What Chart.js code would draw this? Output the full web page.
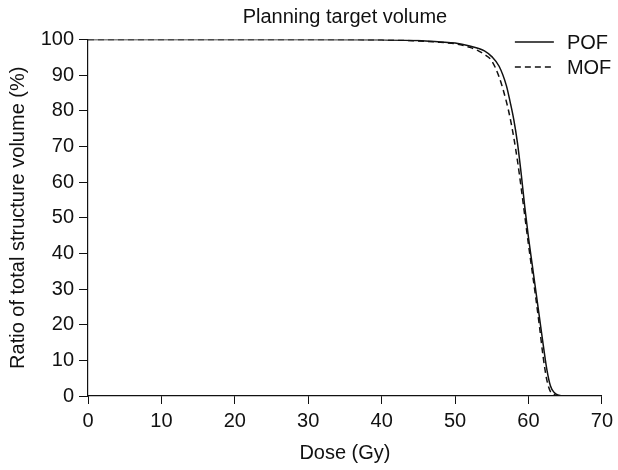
<!DOCTYPE html>
<html lang="en">
<head>
  <meta charset="UTF-8">
  <title>Planning target volume</title>
  <script src="https://cdn.jsdelivr.net/npm/chart.js"></script>
  <style>
    html, body { margin: 0; padding: 0; background: #fff; }
    #wrap { width: 618px; height: 470px; }
  </style>
</head>
<body>
  <div id="wrap"><canvas id="chart" width="618" height="470"></canvas></div>

  <script>
    // dose (Gy) and % of structure volume
    const doses = [0, 10, 20, 30, 40, 45, 48, 50, 52, 53, 54, 55, 56, 57, 57.5, 58, 58.5, 59, 59.5, 60, 60.5, 61, 61.5, 62, 62.5, 63, 63.5, 64, 65, 70];
    const pof = [100, 100, 100, 100, 99.9, 99.7, 99.3, 99, 98.2, 97.6, 96.8, 95.2, 92.5, 87, 82.5, 77.5, 71, 62.5, 53, 44.5, 37, 29.5, 22, 14.5, 7.5, 2.8, 1.0, 0.3, 0, 0];
    const mof = [100, 100, 100, 100, 99.9, 99.6, 99.2, 98.8, 97.8, 97, 95.8, 94, 89.5, 82.5, 78, 72.5, 66, 58.5, 50.5, 42.5, 35, 27.5, 19.5, 11, 4.5, 1.2, 0.4, 0.1, 0, 0];
    const xTicks = [0, 10, 20, 30, 40, 50, 60, 70];
    const yTicks = [0, 10, 20, 30, 40, 50, 60, 70, 80, 90, 100];

    const FONT = "'Liberation Sans', Arial, Helvetica, sans-serif";
    const INK = '#111';

    const toPts = (ys) => doses.map((d, i) => ({ x: d, y: ys[i] }));

    // legend sits inside the plot at top right
    const insideLegend = {
      id: 'insideLegend',
      afterDraw(chart) {
        const { ctx, chartArea } = chart;
        ctx.save();
        ctx.font = '20px ' + FONT;
        ctx.textBaseline = 'middle';
        ctx.fillStyle = INK;
        chart.data.datasets.forEach((ds, i) => {
          const y = chartArea.top + 2.5 + i * 25;
          ctx.beginPath();
          ctx.setLineDash(ds.borderDash || []);
          ctx.lineWidth = ds.borderWidth;
          ctx.strokeStyle = ds.borderColor;
          ctx.moveTo(chartArea.right - 87, y);
          ctx.lineTo(chartArea.right - 48, y);
          ctx.stroke();
          ctx.fillText(ds.label, chartArea.right - 35, y + 1);
        });
        ctx.restore();
      }
    };

    new Chart(document.getElementById('chart').getContext('2d'), {
      type: 'line',
      data: {
        datasets: [
          { label: 'POF', data: toPts(pof), borderColor: INK, borderWidth: 1.5, pointRadius: 0, cubicInterpolationMode: 'monotone', fill: false },
          { label: 'MOF', data: toPts(mof), borderColor: INK, borderWidth: 1.5, borderDash: [6, 4], pointRadius: 0, cubicInterpolationMode: 'monotone', fill: false }
        ]
      },
      options: {
        responsive: false,
        animation: false,
        events: [],
        layout: { padding: { left: 0, right: 15, top: 0, bottom: 0 } },
        plugins: {
          legend: { display: false },
          tooltip: { enabled: false },
          title: {
            display: true,
            text: 'Planning target volume',
            fullSize: false,
            color: INK,
            font: { family: FONT, size: 20, weight: 'normal' },
            padding: { top: 5, bottom: 10.5 }
          }
        },
        scales: {
          x: {
            type: 'linear',
            min: 0, max: 70,
            afterBuildTicks: (s) => { s.ticks = xTicks.map(v => ({ value: v })); },
            afterFit: (s) => { s.height = 74; },
            grid: { drawOnChartArea: false, drawTicks: true, tickLength: 8, color: INK, lineWidth: 1 },
            border: { color: INK, width: 1.2 },
            ticks: { color: INK, padding: 5, maxRotation: 0, font: { family: FONT, size: 20 } },
            title: { display: true, text: 'Dose (Gy)', color: INK, font: { family: FONT, size: 20 }, padding: { top: 0, bottom: 5 } }
          },
          y: {
            min: 0, max: 100,
            afterBuildTicks: (s) => { s.ticks = yTicks.map(v => ({ value: v })); },
            afterFit: (s) => { s.width = 88; },
            grid: { drawOnChartArea: false, drawTicks: true, tickLength: 9, color: INK, lineWidth: 1 },
            border: { color: INK, width: 1.2 },
            ticks: { color: INK, padding: 5, font: { family: FONT, size: 20 } },
            title: { display: true, text: 'Ratio of total structure volume (%)', color: INK, font: { family: FONT, size: 20 }, padding: { top: 6, bottom: 0 } }
          }
        }
      },
      plugins: [insideLegend]
    });
  </script>
</body>
</html>
